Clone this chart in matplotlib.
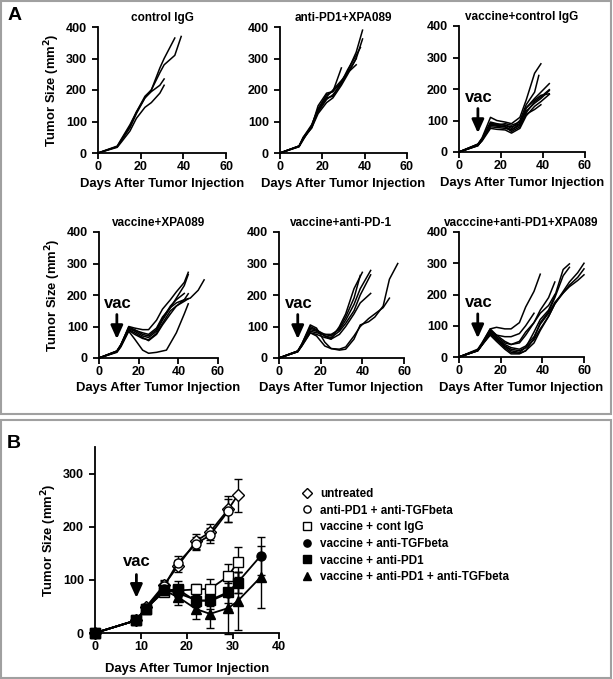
import matplotlib
matplotlib.use("Agg")
import matplotlib.pyplot as plt
from matplotlib.patches import Rectangle

plt.rcParams['font.family'] = ['Liberation Sans', 'DejaVu Sans']
plt.rcParams['font.weight'] = 'bold'

# ---- panel A: individual tumour curves (days, size) ----
control_igg = [
    ([0, 9, 11, 15, 18, 22, 25, 29, 31, 36], [0, 20, 40, 80, 125, 175, 200, 270, 300, 365]),
    ([0, 9, 11, 15, 18, 22, 25, 29, 31, 36, 39], [0, 22, 45, 90, 130, 180, 200, 255, 280, 310, 370]),
    ([0, 9, 11, 15, 18, 22, 25, 29, 31], [0, 18, 35, 70, 110, 145, 160, 190, 215]),
    ([0, 9, 11, 15, 18, 22, 25, 29, 31], [0, 20, 42, 85, 130, 175, 195, 215, 235]),
]
pd1_xpa = [
    ([0, 9, 11, 15, 18, 22, 25, 29, 32, 36, 39], [0, 22, 50, 90, 140, 185, 195, 225, 260, 320, 390]),
    ([0, 9, 11, 15, 18, 22, 25, 29, 32, 36, 39], [0, 22, 45, 85, 130, 170, 185, 220, 255, 300, 362]),
    ([0, 9, 11, 15, 18, 22, 25, 29, 32, 36, 38], [0, 20, 48, 80, 135, 175, 180, 225, 265, 310, 335]),
    ([0, 9, 11, 15, 18, 22, 25, 29], [0, 22, 50, 85, 150, 190, 195, 270]),
    ([0, 9, 11, 15, 18, 22, 25, 29, 32, 36], [0, 22, 45, 80, 125, 160, 175, 215, 250, 300]),
    ([0, 9, 11, 15, 18, 22, 25, 29, 32, 36], [0, 20, 42, 88, 140, 178, 200, 230, 255, 280]),
]
vac_igg = [
    ([0, 9, 11, 15, 18, 22, 25, 29, 32, 36, 39], [0, 25, 45, 110, 100, 95, 90, 110, 165, 250, 280]),
    ([0, 9, 11, 15, 18, 22, 25, 29, 32, 36, 38], [0, 22, 40, 90, 88, 85, 75, 100, 150, 190, 243]),
    ([0, 9, 11, 15, 18, 22, 25, 29, 32, 36, 39, 43], [0, 25, 42, 95, 90, 85, 80, 90, 140, 170, 190, 217]),
    ([0, 9, 11, 15, 18, 22, 25, 29, 32, 36, 39, 43], [0, 20, 38, 85, 82, 80, 65, 80, 125, 160, 175, 198]),
    ([0, 9, 11, 15, 18, 22, 25, 29, 32, 36, 39, 43], [0, 22, 35, 75, 72, 70, 60, 75, 115, 145, 160, 183]),
    ([0, 9, 11, 15, 18, 22, 25, 29, 32, 36, 39, 43], [0, 24, 40, 88, 85, 90, 85, 95, 130, 155, 170, 195]),
    ([0, 9, 11, 15, 18, 22, 25, 29, 32, 36, 39, 43], [0, 20, 38, 80, 78, 75, 70, 90, 140, 165, 180, 185]),
    ([0, 9, 11, 15, 18, 22, 25, 29, 32, 36, 39], [0, 22, 42, 92, 85, 80, 70, 85, 120, 135, 150]),
]
vac_xpa = [
    ([0, 9, 11, 15, 18, 22, 25, 29, 32, 36, 39, 43, 45], [0, 20, 40, 100, 95, 90, 90, 120, 155, 185, 210, 240, 272]),
    ([0, 9, 11, 15, 18, 22, 25, 29, 32, 36, 39, 43, 45], [0, 22, 42, 95, 85, 70, 65, 85, 120, 160, 190, 230, 265]),
    ([0, 9, 11, 15, 18, 22, 25, 29, 32, 36, 39, 43, 45], [0, 20, 38, 90, 80, 65, 55, 75, 105, 140, 165, 185, 204]),
    ([0, 9, 11, 15, 18, 22, 25, 29, 34, 39, 43, 45], [0, 18, 35, 85, 60, 25, 15, 18, 25, 80, 140, 172]),
    ([0, 9, 11, 15, 18, 22, 25, 29, 32, 36, 39, 43, 46, 50, 53], [0, 22, 40, 92, 88, 80, 75, 95, 130, 160, 175, 185, 190, 215, 248]),
    ([0, 9, 11, 15, 18, 22, 25, 29, 32, 36, 39, 43, 45], [0, 20, 38, 88, 75, 62, 58, 78, 110, 150, 165, 180, 188]),
    ([0, 9, 11, 15, 18, 22, 25, 29, 32, 36, 39, 43], [0, 22, 42, 98, 90, 75, 70, 90, 125, 165, 185, 205]),
]
vac_pd1 = [
    ([0, 9, 11, 15, 18, 22, 25, 29, 32, 36, 40], [0, 22, 45, 100, 90, 70, 60, 100, 140, 220, 272]),
    ([0, 9, 11, 15, 18, 22, 25, 29, 32, 36, 39, 44], [0, 20, 42, 85, 80, 75, 75, 90, 120, 170, 220, 278]),
    ([0, 9, 11, 15, 18, 22, 25, 29, 32, 36, 39, 44], [0, 22, 40, 90, 85, 70, 65, 85, 110, 150, 200, 264]),
    ([0, 9, 11, 15, 18, 22, 25, 29, 32, 36, 39, 44], [0, 20, 38, 80, 75, 65, 60, 75, 100, 140, 175, 205]),
    ([0, 9, 11, 15, 18, 22, 25, 29, 32, 36, 39, 43, 46, 50, 53, 57],
     [0, 22, 45, 105, 95, 50, 30, 25, 28, 60, 105, 115, 130, 165, 250, 300]),
    ([0, 9, 11, 15, 18, 22, 25, 29, 32, 36, 39, 43, 46, 50, 53],
     [0, 20, 40, 80, 70, 38, 30, 28, 35, 70, 100, 125, 140, 160, 190]),
    ([0, 9, 11, 15, 18, 22, 25, 29, 32, 36, 39], [0, 22, 42, 95, 88, 75, 70, 95, 130, 190, 262]),
]
vac_pd1_xpa = [
    ([0, 9, 11, 15, 18, 22, 25, 29, 32, 36, 39], [0, 25, 45, 90, 95, 90, 90, 110, 160, 210, 265]),
    ([0, 9, 11, 15, 18, 22, 25, 29, 32, 36], [0, 22, 40, 85, 70, 65, 65, 75, 100, 140]),
    ([0, 9, 11, 15, 18, 22, 25, 29, 32, 36, 39, 43, 46, 50, 53],
     [0, 22, 40, 80, 60, 35, 20, 15, 30, 80, 120, 150, 195, 280, 298]),
    ([0, 9, 11, 15, 18, 22, 25, 29, 32, 36, 39, 43, 46, 50, 53],
     [0, 20, 38, 75, 55, 30, 15, 12, 20, 60, 110, 145, 190, 260, 287]),
    ([0, 9, 11, 15, 18, 22, 25, 29, 32, 36, 39, 43, 46], [0, 22, 40, 85, 65, 45, 40, 50, 80, 110, 150, 190, 240]),
    ([0, 9, 11, 15, 18, 22, 25, 29, 32, 36, 39, 43, 46, 50, 53, 57, 60],
     [0, 20, 38, 70, 50, 25, 10, 10, 20, 45, 85, 130, 170, 210, 240, 270, 300]),
    ([0, 9, 11, 15, 18, 22, 25, 29, 32, 36, 39, 43, 46, 50, 53, 57, 60],
     [0, 22, 40, 80, 55, 35, 25, 20, 30, 55, 90, 130, 170, 205, 230, 255, 282]),
    ([0, 9, 11, 15, 18, 22, 25, 29, 32, 36, 39, 43, 46, 50, 53, 57, 60],
     [0, 20, 38, 75, 60, 40, 30, 25, 35, 65, 105, 140, 175, 205, 225, 245, 263]),
    ([0, 9, 11, 15, 18, 22, 25, 29, 32, 36, 39, 43, 46], [0, 22, 42, 90, 70, 50, 40, 45, 70, 110, 140, 165, 200]),
]

titles_a = ["control IgG", "anti-PD1+XPA089", "vaccine+control IgG",
            "vaccine+XPA089", "vaccine+anti-PD-1", "vacccine+anti-PD1+XPA089"]
groups_a = [control_igg, pd1_xpa, vac_igg, vac_xpa, vac_pd1, vac_pd1_xpa]
has_vac = [False, False, True, True, True, True]

# ---- panel B: group means with error bars ----
labels_b = ["untreated", "anti-PD1 + anti-TGFbeta", "vaccine + cont IgG",
            "vaccine + anti-TGFbeta", "vaccine + anti-PD1", "vaccine + anti-PD1 + anti-TGFbeta"]
days_b = [
    [0, 9, 11, 15, 18, 22, 25, 29, 31],
    [0, 9, 11, 15, 18, 22, 25, 29],
    [0, 9, 11, 15, 18, 22, 25, 29, 31],
    [0, 9, 11, 15, 18, 22, 25, 29, 31, 36],
    [0, 9, 11, 15, 18, 22, 25, 29, 31],
    [0, 9, 11, 15, 18, 22, 25, 29, 31, 36],
]
mean_b = [
    [0, 24, 48, 90, 126, 173, 190, 233, 259],
    [0, 24, 45, 88, 132, 168, 184, 230],
    [0, 24, 45, 78, 80, 82, 83, 107, 134],
    [0, 24, 47, 82, 75, 62, 60, 75, 95, 145],
    [0, 24, 45, 80, 82, 60, 62, 77, 95],
    [0, 24, 45, 80, 68, 45, 36, 47, 60, 105],
]
err_b = [
    [0, 3, 6, 10, 12, 14, 15, 25, 31],
    [0, 3, 5, 9, 12, 12, 14, 22],
    [0, 3, 6, 8, 10, 10, 18, 22, 28],
    [0, 3, 5, 8, 12, 14, 15, 30, 20, 35],
    [0, 3, 5, 10, 15, 10, 12, 20, 20],
    [0, 3, 5, 8, 15, 18, 26, 48, 55, 58],
]
markers_b = ['D', 'o', 's', 'o', 's', '^']
faces_b = ['white', 'white', 'white', 'black', 'black', 'black']

W, H = 613, 679
fig = plt.figure(figsize=(W / 100, H / 100), dpi=100)


def add_ax(x0, x1, ytop, ybot):
    return fig.add_axes([x0 / W, 1 - ybot / H, (x1 - x0) / W, (ybot - ytop) / H])


def style(ax):
    for s in ['top', 'right']:
        ax.spines[s].set_visible(False)
    for s in ['left', 'bottom']:
        ax.spines[s].set_linewidth(1.3)
    ax.tick_params(direction='out', length=4, width=1.3, labelsize=9)
    ax.tick_params(axis='x', pad=2)
    ax.tick_params(axis='y', pad=4)
    for lab in ax.get_xticklabels() + ax.get_yticklabels():
        lab.set_fontweight('bold')


# gray frames
fig.patches.append(Rectangle((1 / W, 1 - 414 / H), 610 / W, 413 / H, transform=fig.transFigure,
                             fill=False, edgecolor='#a0a0a0', lw=1.5))
fig.patches.append(Rectangle((1 / W, 1 / H), 610 / W, 258 / H, transform=fig.transFigure,
                             fill=False, edgecolor='#a0a0a0', lw=1.5))

boxes = [(98, 226, 27, 153), (280, 407, 27, 153), (459, 585, 26, 152),
         (99, 218, 232, 358), (279, 404, 232, 358), (459, 584, 232, 357)]

arrow = dict(arrowstyle='-|>,head_length=1.0,head_width=0.45', color='black', lw=2.0,
             mutation_scale=8, shrinkA=0, shrinkB=0)

for i, (x0, x1, yt, yb) in enumerate(boxes):
    ax = add_ax(x0, x1, yt, yb)
    for d, v in groups_a[i]:
        ax.plot(d, v, color='black', lw=1.1, clip_on=False)
    ax.set_xlim(0, 60)
    ax.set_ylim(0, 400)
    ax.set_xticks([0, 20, 40, 60])
    ax.set_yticks([0, 100, 200, 300, 400])
    style(ax)
    ax.set_title(titles_a[i], fontsize=8.5, fontweight='bold', pad=4)
    ax.set_xlabel("Days After Tumor Injection", fontsize=9.4, fontweight='bold', labelpad=3)
    if i % 3 == 0:
        ax.set_ylabel("Tumor Size (mm$^\\mathbf{2}$)", fontsize=9.4, fontweight='bold', labelpad=3)
    if has_vac[i]:
        ax.annotate("", xy=(9, 60), xytext=(9, 138), arrowprops=arrow)
        ax.text(9.5, 174, "vac", ha='center', va='center', fontsize=12, fontweight='bold')

# panel B
axb = add_ax(95, 279, 447, 633)
for i in range(len(labels_b)):
    axb.errorbar(days_b[i], mean_b[i], yerr=err_b[i], fmt='none', ecolor='black',
                 elinewidth=1.0, capsize=3, capthick=1.0, clip_on=False)
for i in range(len(labels_b)):
    axb.plot(days_b[i], mean_b[i], color='black', lw=1.3, marker=markers_b[i],
             markersize=6.5 if markers_b[i] != 'D' else 6, markerfacecolor=faces_b[i],
             markeredgecolor='black', markeredgewidth=1.0, label=labels_b[i], clip_on=False, zorder=3)
axb.set_xlim(0, 40)
axb.set_ylim(0, 350)
axb.set_xticks([0, 10, 20, 30, 40])
axb.set_yticks([0, 100, 200, 300])
style(axb)
axb.set_xlabel("Days After Tumor Injection", fontsize=9.4, fontweight='bold', labelpad=7)
axb.set_ylabel("Tumor Size (mm$^\\mathbf{2}$)", fontsize=9.4, fontweight='bold', labelpad=3)
axb.annotate("", xy=(9, 66), xytext=(9, 110), arrowprops=arrow)
axb.text(9, 134, "vac", ha='center', va='center', fontsize=12, fontweight='bold')

leg = fig.legend(*axb.get_legend_handles_labels(), loc='upper left',
                 bbox_to_anchor=(296 / W, 1 - 482 / H), frameon=False, fontsize=8.4,
                 handlelength=0.9, handletextpad=0.7, labelspacing=0.4, borderpad=0,
                 markerscale=0.8)
for line in leg.get_lines():
    line.set_linestyle('none')
for t in leg.get_texts():
    t.set_fontweight('bold')

fig.text(15 / W, 1 - 15 / H, "A", fontsize=14, fontweight='bold', va='center', ha='center')
fig.text(14 / W, 1 - 443 / H, "B", fontsize=14, fontweight='bold', va='center', ha='center')

fig.savefig("out.png", dpi=100)
